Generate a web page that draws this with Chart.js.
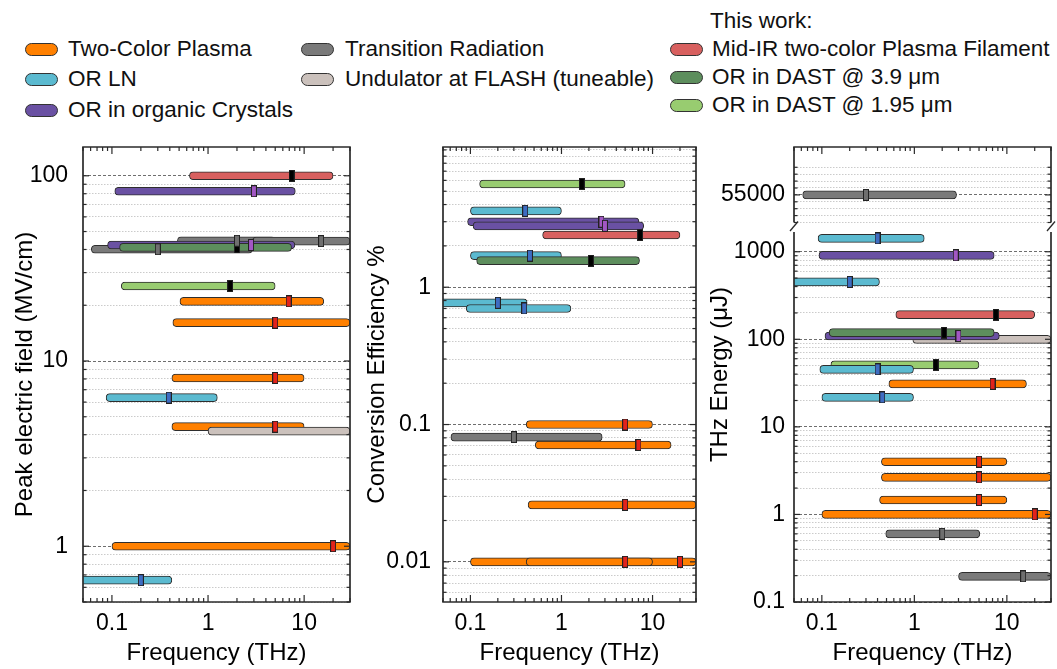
<!DOCTYPE html>
<html><head><meta charset="utf-8">
<script src="https://cdn.jsdelivr.net/npm/chart.js@4.4.1/dist/chart.umd.min.js"></script>
<style>
html,body{margin:0;padding:0;background:#fff;}
body{width:1057px;height:669px;position:relative;overflow:hidden;font-family:"Liberation Sans",Arial,sans-serif;}
canvas{position:absolute;}
.lgt{position:absolute;font-size:22.5px;line-height:22px;white-space:nowrap;color:#111;}
.pill{position:absolute;width:31px;height:11px;border:1px solid #333;border-radius:7px;}
</style></head><body>
<div id="legend"></div>
<canvas id="c1" width="356" height="529" style="left:0px;top:140px"></canvas>
<canvas id="c2" width="347" height="529" style="left:355px;top:140px"></canvas>
<canvas id="c3" width="357" height="529" style="left:700px;top:140px"></canvas>
<script>
// ---------------- DATA ----------------
// each row: [f_low (THz), f_high (THz), value, f_centre (THz)]
const seriesNames = ['Two-Color Plasma', 'OR LN', 'OR in organic Crystals', 'Transition Radiation',
  'Undulator at FLASH (tuneable)', 'Mid-IR two-color Plasma Filament', 'OR in DAST @ 3.9 μm', 'OR in DAST @ 1.95 μm'];
const legendHeader = 'This work:';

const freqTickLabels = [0.1, 1, 10];
const fieldTickLabels = [1, 10, 100];
const effTickLabels = [0.01, 0.1, 1];
const energyTickLabels = [0.1, 1, 10, 100, 1000];
const energyBreakTickLabels = [55000];

// Panel 1: Peak electric field (MV/cm)
const fieldPlasma = [[0.51, 16, 21, 6.9], [0.43, 30, 16.1, 5], [0.42, 10, 8.1, 5], [0.42, 10, 4.42, 5], [0.1, 30, 1.0, 20]];
const fieldLN = [[0.087, 1.25, 6.34, 0.39], [0.045, 0.42, 0.656, 0.2]];
const fieldOrganic = [[0.107, 8.1, 82.5, 3.0], [0.09, 8.0, 42.3, 2.8]];
const fieldTR = [[0.48, 5.0, 44.6, 2.0], [2.9, 30, 44.4, 15], [0.061, 2.9, 40.1, 0.3]];
const fieldUndulator = [[1.0, 30, 4.18, null]];
const fieldMidIR = [[0.64, 20, 100, 7.4]];
const fieldDAST39 = [[0.12, 7.4, 41.1, 2.0]];
const fieldDAST195 = [[0.125, 5.0, 25.4, 1.7]];

// Panel 2: Conversion efficiency (%)
const effPlasma = [[0.41, 10, 0.1, 5], [0.515, 16, 0.071, 7], [0.43, 30, 0.026, 5], [0.1, 30, 0.01, 20], [0.41, 10, 0.01, 5]];
const effLN = [[0.1, 1.0, 3.6, 0.4], [0.1, 1.0, 1.7, 0.45], [0.045, 0.42, 0.77, 0.2], [0.09, 1.27, 0.70, 0.39]];
const effOrganic = [[0.093, 7.1, 3.0, 2.75], [0.107, 8.0, 2.8, 3.0]];
const effTR = [[0.061, 2.8, 0.081, 0.3]];
const effUndulator = [];
const effMidIR = [[0.62, 20, 2.4, 7.3]];
const effDAST39 = [[0.117, 7.2, 1.56, 2.1]];
const effDAST195 = [[0.126, 5.0, 5.65, 1.67]];

// Panel 3: THz energy (uJ)
const energyPlasma = [[0.53, 16.3, 31, 7], [0.44, 10, 4.0, 5], [0.44, 30, 2.65, 5], [0.42, 10, 1.46, 5], [0.1, 30, 1.0, 20]];
const energyLN = [[0.091, 1.28, 1420, 0.4], [0.045, 0.42, 452, 0.2], [0.095, 0.98, 45.4, 0.4], [0.1, 0.98, 21.7, 0.45]];
const energyOrganic = [[0.093, 7.3, 910, 2.8], [0.108, 8.3, 109, 3.0]];
const energyTR = [[0.49, 5.1, 0.6, 2.0], [3.0, 30, 0.196, 15]];
const energyTRBroken = [[0.062, 2.86, 55000, 0.3]];
const energyUndulator = [[0.96, 30, 100, null]];
const energyMidIR = [[0.63, 20, 191, 7.6]];
const energyDAST39 = [[0.12, 7.3, 119, 2.1]];
const energyDAST195 = [[0.125, 5.0, 51, 1.7]];

// ---------------- STYLE ----------------
const seriesFill = ['#ff8000', '#5bbad0', '#6a51a3', '#7a7a7a', '#cbc1bc', '#d8605f', '#5d8e5d', '#98cc70'];
const markerFill = ['#e3231c', '#3e6cc2', '#a257c4', '#6f6f6f', null, '#000000', '#000000', '#000000'];
const barOrder = [7, 5, 2, 3, 4, 1, 1, 6];
const FONT = "'Liberation Sans', Arial, sans-serif";
const TICK_SIZE = 23, TITLE_SIZE = 24;
Chart.defaults.font.family = FONT;
Chart.defaults.color = '#000';

// legend (HTML text)
(function () {
  const L = document.getElementById('legend');
  const pos = [[25, 49, 68], [25, 79, 68], [25, 110, 68], [301, 49, 345], [301, 79, 345], [670, 49, 712], [670, 77, 712], [670, 105, 712]];
  seriesNames.forEach((n, i) => {
    const p = document.createElement('div'); p.className = 'pill';
    p.style.left = pos[i][0] + 'px'; p.style.top = (pos[i][1] - 6.5) + 'px'; p.style.background = seriesFill[i];
    L.appendChild(p);
    const t = document.createElement('div'); t.className = 'lgt'; t.textContent = n;
    t.style.left = pos[i][2] + 'px'; t.style.top = (pos[i][1] - 11) + 'px';
    L.appendChild(t);
  });
  const h = document.createElement('div'); h.className = 'lgt'; h.textContent = legendHeader;
  h.style.left = '710px'; h.style.top = (21 - 11) + 'px'; L.appendChild(h);
})();

function logTicks(lo, hi) {
  const out = [];
  for (let e = Math.floor(Math.log10(lo)); e <= Math.ceil(Math.log10(hi)); e++) {
    for (let m = 1; m <= 9; m++) {
      const v = Number((m * Math.pow(10, e)).toPrecision(6));
      if (v >= lo * 0.999 && v <= hi * 1.001) out.push(v);
    }
  }
  return out;
}

function markerImg(fill) {
  const c = document.createElement('canvas'); c.width = 6; c.height = 12;
  const g = c.getContext('2d');
  g.fillStyle = '#222'; g.fillRect(0, 0, 6, 12);
  g.fillStyle = fill; g.fillRect(1, 1, 4, 10);
  return c;
}

function barSet(rows, si, yAxisID) {
  return {
    type: 'bar', indexAxis: 'y', label: seriesNames[si],
    data: rows.map(r => ({ x: [r[0], r[1]], y: r[2] })),
    backgroundColor: seriesFill[si], borderColor: '#2e2e2e', borderWidth: 1,
    borderRadius: 4, borderSkipped: false, barThickness: 8, grouped: false,
    xAxisID: 'x', yAxisID: yAxisID, order: barOrder[si], clip: 0
  };
}
function markSet(rows, si, yAxisID) {
  const pts = rows.filter(r => r[3] != null).map(r => ({ x: r[3], y: r[2] }));
  return {
    type: 'scatter', label: seriesNames[si] + ' centre', data: pts,
    pointStyle: markerImg(markerFill[si] || '#777'), pointRadius: 5,
    xAxisID: 'x', yAxisID: yAxisID, order: 0
  };
}
function buildSets(groups, yAxisID) {
  const sets = [];
  groups.forEach((rows, si) => { if (rows.length) sets.push(barSet(rows, si, yAxisID)); });
  groups.forEach((rows, si) => { if (rows.some(r => r[3] != null)) sets.push(markSet(rows, si, yAxisID)); });
  return sets;
}

const gridFor = labels => ({
  display: true, drawTicks: false, offset: false, lineWidth: 1,
  color: c => (c.tick && labels.includes(c.tick.value)) ? '#6e6e6e' : '#cbcbcb'
});
const borderFor = labels => ({
  display: false,
  dash: c => (c.tick && labels.includes(c.tick.value)) ? [3, 2] : [1.5, 1.5]
});

function xScale() {
  return {
    type: 'logarithmic', axis: 'x', position: 'bottom', min: 0.05, max: 30, offset: false,
    afterBuildTicks: s => { s.ticks = logTicks(0.05, 30).map(v => ({ value: v })); s.$major = freqTickLabels; },
    afterFit: s => { s.height = 67; s.paddingLeft = 0; s.paddingRight = 0; },
    grid: { display: false, drawTicks: false, offset: false },
    border: { display: false },
    ticks: { autoSkip: false, maxRotation: 0, minRotation: 0, padding: 8, font: { size: TICK_SIZE }, color: '#000',
      callback: v => freqTickLabels.includes(v) ? String(v) : '' },
    title: { display: true, text: 'Frequency (THz)', font: { size: TITLE_SIZE }, color: '#000', padding: { top: 0, bottom: 1.5 } }
  };
}
function yScale(type, min, max, tickVals, labels, width, pad, title, titlePad, extra) {
  return Object.assign({
    type: type, axis: 'y', position: 'left', min: min, max: max, offset: false,
    afterBuildTicks: s => { s.ticks = tickVals.map(v => ({ value: v })); s.$major = labels; },
    afterFit: s => { s.width = width; s.paddingTop = 0; s.paddingBottom = 0; },
    grid: gridFor(labels), border: borderFor(labels),
    ticks: { autoSkip: false, padding: pad, font: { size: TICK_SIZE }, color: '#000',
      callback: v => labels.includes(v) ? String(v) : '' },
    title: title ? { display: true, text: title, font: { size: TITLE_SIZE }, color: '#000', padding: { top: titlePad, bottom: 0 } } : { display: false }
  }, extra || {});
}

function framePlugin(cfg) {
  return {
    id: 'frame',
    afterDraw(chart) {
      const ctx = chart.ctx, a = chart.chartArea;
      const seg = (x1, y1, x2, y2) => { ctx.beginPath(); ctx.moveTo(x1, y1); ctx.lineTo(x2, y2); ctx.stroke(); };
      ctx.save();
      ctx.setLineDash([]);
      ctx.strokeStyle = '#2a2a2a';
      const ys = Object.values(chart.scales).filter(s => s.axis === 'y' && s.options.display !== false);
      ctx.lineWidth = 1.2;
      ys.forEach(s => s.ticks.forEach(t => {
        const p = s.getPixelForValue(t.value);
        if (p < s.top - 0.5 || p > s.bottom + 0.5) return;
        const L = (s.$major || []).includes(t.value) ? 6 : 3.5;
        seg(a.left, p, a.left + L, p); seg(a.right, p, a.right - L, p);
      }));
      const xs = chart.scales.x;
      xs.ticks.forEach(t => {
        const p = xs.getPixelForValue(t.value);
        const L = (xs.$major || []).includes(t.value) ? 7 : 4;
        seg(p, a.bottom, p, a.bottom - L); seg(p, a.top, p, a.top + L);
      });
      ctx.lineWidth = 1.7;
      ys.forEach(s => { seg(a.left, s.top, a.left, s.bottom); seg(a.right, s.top, a.right, s.bottom); });
      seg(a.left - 0.8, a.top, a.right + 0.8, a.top);
      seg(a.left - 0.8, a.bottom, a.right + 0.8, a.bottom);
      if (cfg && cfg.breakTop) {
        const t = chart.scales[cfg.breakTop], b = chart.scales[cfg.breakBot];
        ctx.lineWidth = 1.3;
        [a.left, a.right].forEach(x => seg(x - 4, b.top - 1, x + 4, t.bottom - 1));
      }
      if (cfg && cfg.yTitle) {
        ctx.fillStyle = '#000';
        ctx.font = TITLE_SIZE + 'px ' + FONT;
        ctx.textAlign = 'center'; ctx.textBaseline = 'middle';
        ctx.translate(cfg.yTitleX, (a.top + a.bottom) / 2);
        ctx.rotate(-Math.PI / 2);
        ctx.fillText(cfg.yTitle, 0, 0);
      }
      ctx.restore();
    }
  };
}

function baseOptions(scales, pad) {
  return {
    responsive: false, animation: false, devicePixelRatio: 1, events: [],
    layout: { padding: pad },
    plugins: { legend: { display: false }, tooltip: { enabled: false } },
    scales: scales
  };
}

// ---------------- PANEL 1 ----------------
new Chart(document.getElementById('c1'), {
  type: 'scatter',
  data: { datasets: buildSets([fieldPlasma, fieldLN, fieldOrganic, fieldTR, fieldUndulator, fieldMidIR, fieldDAST39, fieldDAST195], 'y') },
  options: baseOptions({
    x: xScale(),
    y: yScale('logarithmic', 0.5, 143, logTicks(0.5, 143), fieldTickLabels, 83, 15, 'Peak electric field (MV/cm)', 10.5)
  }, { top: 7, right: 5, left: 0, bottom: 0 }),
  plugins: [framePlugin(null)]
});

// ---------------- PANEL 2 ----------------
new Chart(document.getElementById('c2'), {
  type: 'scatter',
  data: { datasets: buildSets([effPlasma, effLN, effOrganic, effTR, effUndulator, effMidIR, effDAST39, effDAST195], 'y') },
  options: baseOptions({
    x: xScale(),
    y: yScale('logarithmic', 0.0051, 10.5, logTicks(0.0051, 10.5), effTickLabels, 88, 12, 'Conversion Efficiency %', 7.5)
  }, { top: 7, right: 5, left: 0, bottom: 0 }),
  plugins: [framePlugin(null)]
});

// ---------------- PANEL 3 (broken axis) ----------------
const p3sets = buildSets([energyPlasma, energyLN, energyOrganic, energyTR, energyUndulator, energyMidIR, energyDAST39, energyDAST195], 'yBot')
  .concat([barSet(energyTRBroken, 3, 'yTop'), markSet(energyTRBroken, 3, 'yTop')]);
new Chart(document.getElementById('c3'), {
  type: 'scatter',
  data: { datasets: p3sets },
  options: baseOptions({
    x: xScale(),
    yTop: yScale('linear', 35000, 89700, [35000, 40000, 45000, 50000, 55000, 60000, 65000, 70000, 75000], energyBreakTickLabels, 94, 9, null, 0,
      { stack: 'energy', stackWeight: 75.5, weight: 3 }),
    yGap: { type: 'linear', axis: 'y', position: 'left', display: false, min: 0, max: 1, stack: 'energy', stackWeight: 9.5, weight: 2,
      afterFit: s => { s.width = 94; } },
    yBot: yScale('logarithmic', 0.1, 1680, logTicks(0.1, 1680), energyTickLabels, 94, 9, null, 0,
      { stack: 'energy', stackWeight: 370, weight: 1 })
  }, { top: 7, right: 3, left: 0, bottom: 0 }),
  plugins: [framePlugin({ breakTop: 'yTop', breakBot: 'yBot', yTitle: 'THz Energy (μJ)', yTitleX: 20 })]
});
</script>
</body></html>
